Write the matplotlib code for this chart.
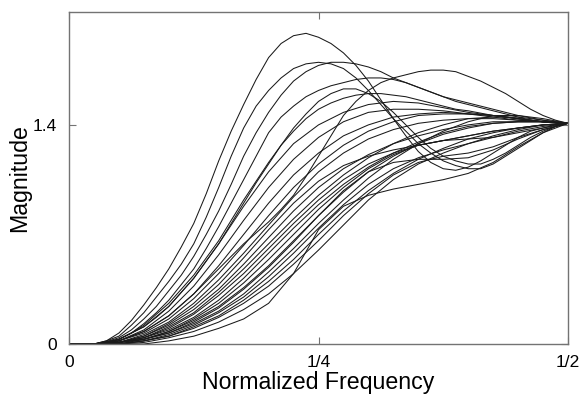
import numpy as np
import matplotlib
matplotlib.use("Agg")
from matplotlib import pyplot as plt

# normalized frequency grid the bundle curves were read at
freq = [0, .025, .05, .075, .1, .125, .15, .175, .2, .225, .25,
        .275, .3, .325, .35, .375, .4, .425, .45, .475, .5]
# finer grid for the peaked curves
freq_fine = [0, .0125, .025, .0375, .05, .0625, .075, .0875, .1, .1125,
             .125, .1375, .15, .1625, .175, .1875, .2, .2125, .225, .2375,
             .25, .2625, .275, .2875, .3, .3125, .325, .3375, .35, .3625,
             .375, .3875, .4, .4125, .425, .4375, .45, .4625, .475, .4875, .5]

# peaked curves (upper left)
curve_a = [0, 0, 0, 0.02, 0.07, 0.15, 0.25, 0.36, 0.48, 0.62, 0.77, 0.96, 1.17, 1.36, 1.53, 1.69, 1.83, 1.92, 1.97, 1.985,
           1.96, 1.92, 1.86, 1.78, 1.68, 1.56, 1.44, 1.33, 1.23, 1.16, 1.12, 1.11, 1.13, 1.17, 1.22, 1.27, 1.32, 1.36, 1.38, 1.40, 1.41]
curve_b = [0, 0, 0, 0.02, 0.05, 0.12, 0.20, 0.30, 0.40, 0.51, 0.64, 0.81, 1.00, 1.20, 1.38, 1.52, 1.62, 1.70, 1.76, 1.79,
           1.80, 1.79, 1.76, 1.70, 1.62, 1.53, 1.44, 1.36, 1.28, 1.22, 1.17, 1.14, 1.12, 1.12, 1.15, 1.20, 1.25, 1.30, 1.35, 1.39, 1.41]
curve_c = [0, 0, 0, 0.015, 0.04, 0.09, 0.16, 0.24, 0.34, 0.44, 0.56, 0.70, 0.85, 1.02, 1.20, 1.35, 1.48, 1.59, 1.68, 1.74,
           1.78, 1.80, 1.80, 1.79, 1.77, 1.74, 1.70, 1.67, 1.64, 1.61, 1.58, 1.56, 1.54, 1.52, 1.50, 1.48, 1.46, 1.445, 1.43, 1.42, 1.41]
curve_d = [0, 0, 0, 0.01, 0.02, 0.05, 0.08, 0.13, 0.18, 0.25, 0.32, 0.40, 0.48, 0.56, 0.64, 0.71, 0.78, 0.86, 0.95, 1.07,
           1.20, 1.33, 1.46, 1.55, 1.62, 1.67, 1.70, 1.72, 1.74, 1.75, 1.75, 1.74, 1.71, 1.68, 1.64, 1.60, 1.55, 1.50, 1.46, 1.43, 1.41]
curve_e = [0, 0, 0, 0.01, 0.03, 0.07, 0.13, 0.20, 0.28, 0.38, 0.48, 0.61, 0.75, 0.90, 1.05, 1.20, 1.35, 1.45, 1.52, 1.58,
           1.62, 1.65, 1.67, 1.69, 1.70, 1.70, 1.69, 1.67, 1.64, 1.61, 1.58, 1.55, 1.53, 1.51, 1.49, 1.47, 1.45, 1.43, 1.42, 1.415, 1.41]
curve_f = [0, 0, 0, 0.01, 0.03, 0.07, 0.12, 0.19, 0.26, 0.35, 0.44, 0.55, 0.66, 0.79, 0.92, 1.04, 1.16, 1.27, 1.36, 1.44,
           1.50, 1.54, 1.57, 1.59, 1.60, 1.60, 1.59, 1.58, 1.56, 1.54, 1.52, 1.50, 1.49, 1.475, 1.46, 1.45, 1.44, 1.43, 1.42, 1.415, 1.41]
curve_g = [0, 0, 0, 0.01, 0.03, 0.07, 0.11, 0.17, 0.24, 0.33, 0.42, 0.53, 0.64, 0.77, 0.90, 1.03, 1.15, 1.27, 1.38, 1.47,
           1.55, 1.60, 1.63, 1.63, 1.60, 1.55, 1.48, 1.40, 1.32, 1.25, 1.20, 1.17, 1.15, 1.15, 1.18, 1.22, 1.27, 1.32, 1.36, 1.39, 1.41]

# main bundle
bundle = [
    [0, 0, 0.03, 0.11, 0.24, 0.42, 0.64, 0.88, 1.10, 1.28, 1.40, 1.48, 1.53, 1.55, 1.54, 1.51, 1.48, 1.46, 1.44, 1.42, 1.41],
    [0, 0, 0.02, 0.09, 0.21, 0.37, 0.57, 0.79, 1.00, 1.18, 1.32, 1.42, 1.48, 1.50, 1.50, 1.49, 1.47, 1.45, 1.43, 1.42, 1.41],
    [0, 0, 0.02, 0.08, 0.18, 0.32, 0.50, 0.70, 0.90, 1.08, 1.22, 1.33, 1.40, 1.45, 1.47, 1.48, 1.47, 1.46, 1.44, 1.42, 1.41],
    [0, 0, 0.02, 0.07, 0.16, 0.29, 0.45, 0.63, 0.82, 1.00, 1.15, 1.27, 1.36, 1.42, 1.46, 1.47, 1.47, 1.46, 1.44, 1.42, 1.41],
    [0, 0, 0.01, 0.06, 0.14, 0.26, 0.41, 0.58, 0.76, 0.94, 1.10, 1.22, 1.31, 1.37, 1.41, 1.43, 1.44, 1.44, 1.43, 1.42, 1.41],
    [0, 0, 0.01, 0.05, 0.13, 0.24, 0.38, 0.55, 0.73, 0.90, 1.04, 1.14, 1.20, 1.24, 1.27, 1.30, 1.33, 1.36, 1.38, 1.40, 1.41],
    [0, 0, 0.01, 0.05, 0.12, 0.22, 0.35, 0.51, 0.68, 0.85, 1.00, 1.12, 1.21, 1.28, 1.33, 1.37, 1.40, 1.42, 1.42, 1.42, 1.41],
    [0, 0, 0.01, 0.04, 0.11, 0.20, 0.33, 0.48, 0.64, 0.80, 0.95, 1.08, 1.19, 1.28, 1.35, 1.40, 1.44, 1.45, 1.45, 1.43, 1.41],
    [0, 0, 0.01, 0.04, 0.10, 0.19, 0.31, 0.45, 0.61, 0.77, 0.92, 1.05, 1.15, 1.22, 1.27, 1.30, 1.33, 1.36, 1.38, 1.40, 1.41],
    [0, 0, 0.01, 0.04, 0.09, 0.17, 0.28, 0.42, 0.58, 0.74, 0.89, 1.02, 1.13, 1.22, 1.29, 1.35, 1.39, 1.41, 1.42, 1.42, 1.41],
    [0, 0, 0.01, 0.03, 0.08, 0.16, 0.26, 0.39, 0.54, 0.70, 0.86, 1.00, 1.12, 1.21, 1.27, 1.30, 1.31, 1.32, 1.35, 1.38, 1.41],
    [0, 0, 0.01, 0.03, 0.08, 0.15, 0.24, 0.36, 0.50, 0.66, 0.82, 0.97, 1.10, 1.20, 1.28, 1.34, 1.38, 1.41, 1.42, 1.42, 1.41],
    [0, 0, 0.01, 0.03, 0.07, 0.14, 0.23, 0.35, 0.49, 0.65, 0.82, 0.98, 1.10, 1.16, 1.18, 1.18, 1.19, 1.24, 1.31, 1.37, 1.41],
    [0, 0, 0.00, 0.03, 0.07, 0.13, 0.21, 0.32, 0.46, 0.61, 0.77, 0.92, 1.06, 1.18, 1.28, 1.36, 1.42, 1.46, 1.46, 1.44, 1.41],
    [0, 0, 0.00, 0.02, 0.06, 0.12, 0.20, 0.30, 0.43, 0.58, 0.74, 0.89, 1.02, 1.12, 1.19, 1.24, 1.28, 1.32, 1.36, 1.39, 1.41],
    [0, 0, 0.00, 0.02, 0.05, 0.11, 0.18, 0.28, 0.40, 0.54, 0.70, 0.85, 0.98, 1.09, 1.18, 1.25, 1.31, 1.35, 1.38, 1.40, 1.41],
    [0, 0, 0.00, 0.02, 0.05, 0.10, 0.17, 0.26, 0.37, 0.51, 0.66, 0.82, 0.96, 1.08, 1.16, 1.20, 1.22, 1.26, 1.32, 1.37, 1.41],
    [0, 0, 0.00, 0.01, 0.04, 0.08, 0.14, 0.22, 0.32, 0.45, 0.60, 0.76, 0.92, 1.05, 1.15, 1.22, 1.28, 1.33, 1.37, 1.40, 1.41],
]

# slowest riser (lowest curve)
curve_low = [0, 0, 0, 0.0, 0.02, 0.05, 0.10, 0.16, 0.26, 0.45, 0.73, 0.88, 0.95, 0.99, 1.02, 1.05, 1.09, 1.16, 1.26, 1.35, 1.41]

xtick_pos = [0, 0.25, 0.5]
xtick_lab = ["0", "1/4", "1/2"]
ytick_pos = [0, 1.4]
ytick_lab = ["0", "1.4"]

plt.rcParams['font.family'] = ['Liberation Sans', 'DejaVu Sans']

fig = plt.figure(figsize=(5.83, 3.99), dpi=100)
ax = fig.add_axes([69/583, 1 - 344/399, (568 - 69)/583, (344 - 12)/399])

for c in [curve_a, curve_b, curve_c, curve_d, curve_e, curve_f, curve_g]:
    ax.plot(freq_fine, c, color='0.1', lw=0.75)
for c in bundle + [curve_low]:
    ax.plot(freq, c, color='0.1', lw=0.75)

ax.set_xlim(0, 0.5)
ax.set_ylim(0, 1.5 * np.sqrt(2))
ax.set_xticks(xtick_pos)
ax.set_xticklabels(xtick_lab)
ax.set_yticks(ytick_pos)
ax.set_yticklabels(ytick_lab)
ax.tick_params(direction='in', length=5, color='0.45', labelsize=12.5, top=True, right=True,
               labeltop=False, labelright=False)
ax.tick_params(axis='x', pad=8)
ax.tick_params(axis='y', pad=9)
for s in ax.spines.values():
    s.set_color('0.45')
    s.set_linewidth(1.0)

ax.set_xlabel("Normalized Frequency", fontsize=16.7, labelpad=1)
ax.set_ylabel("Magnitude", fontsize=16.7, va='center')
ax.yaxis.set_label_coords(-0.098, 0.5)

fig.savefig("out.png", dpi=100)
